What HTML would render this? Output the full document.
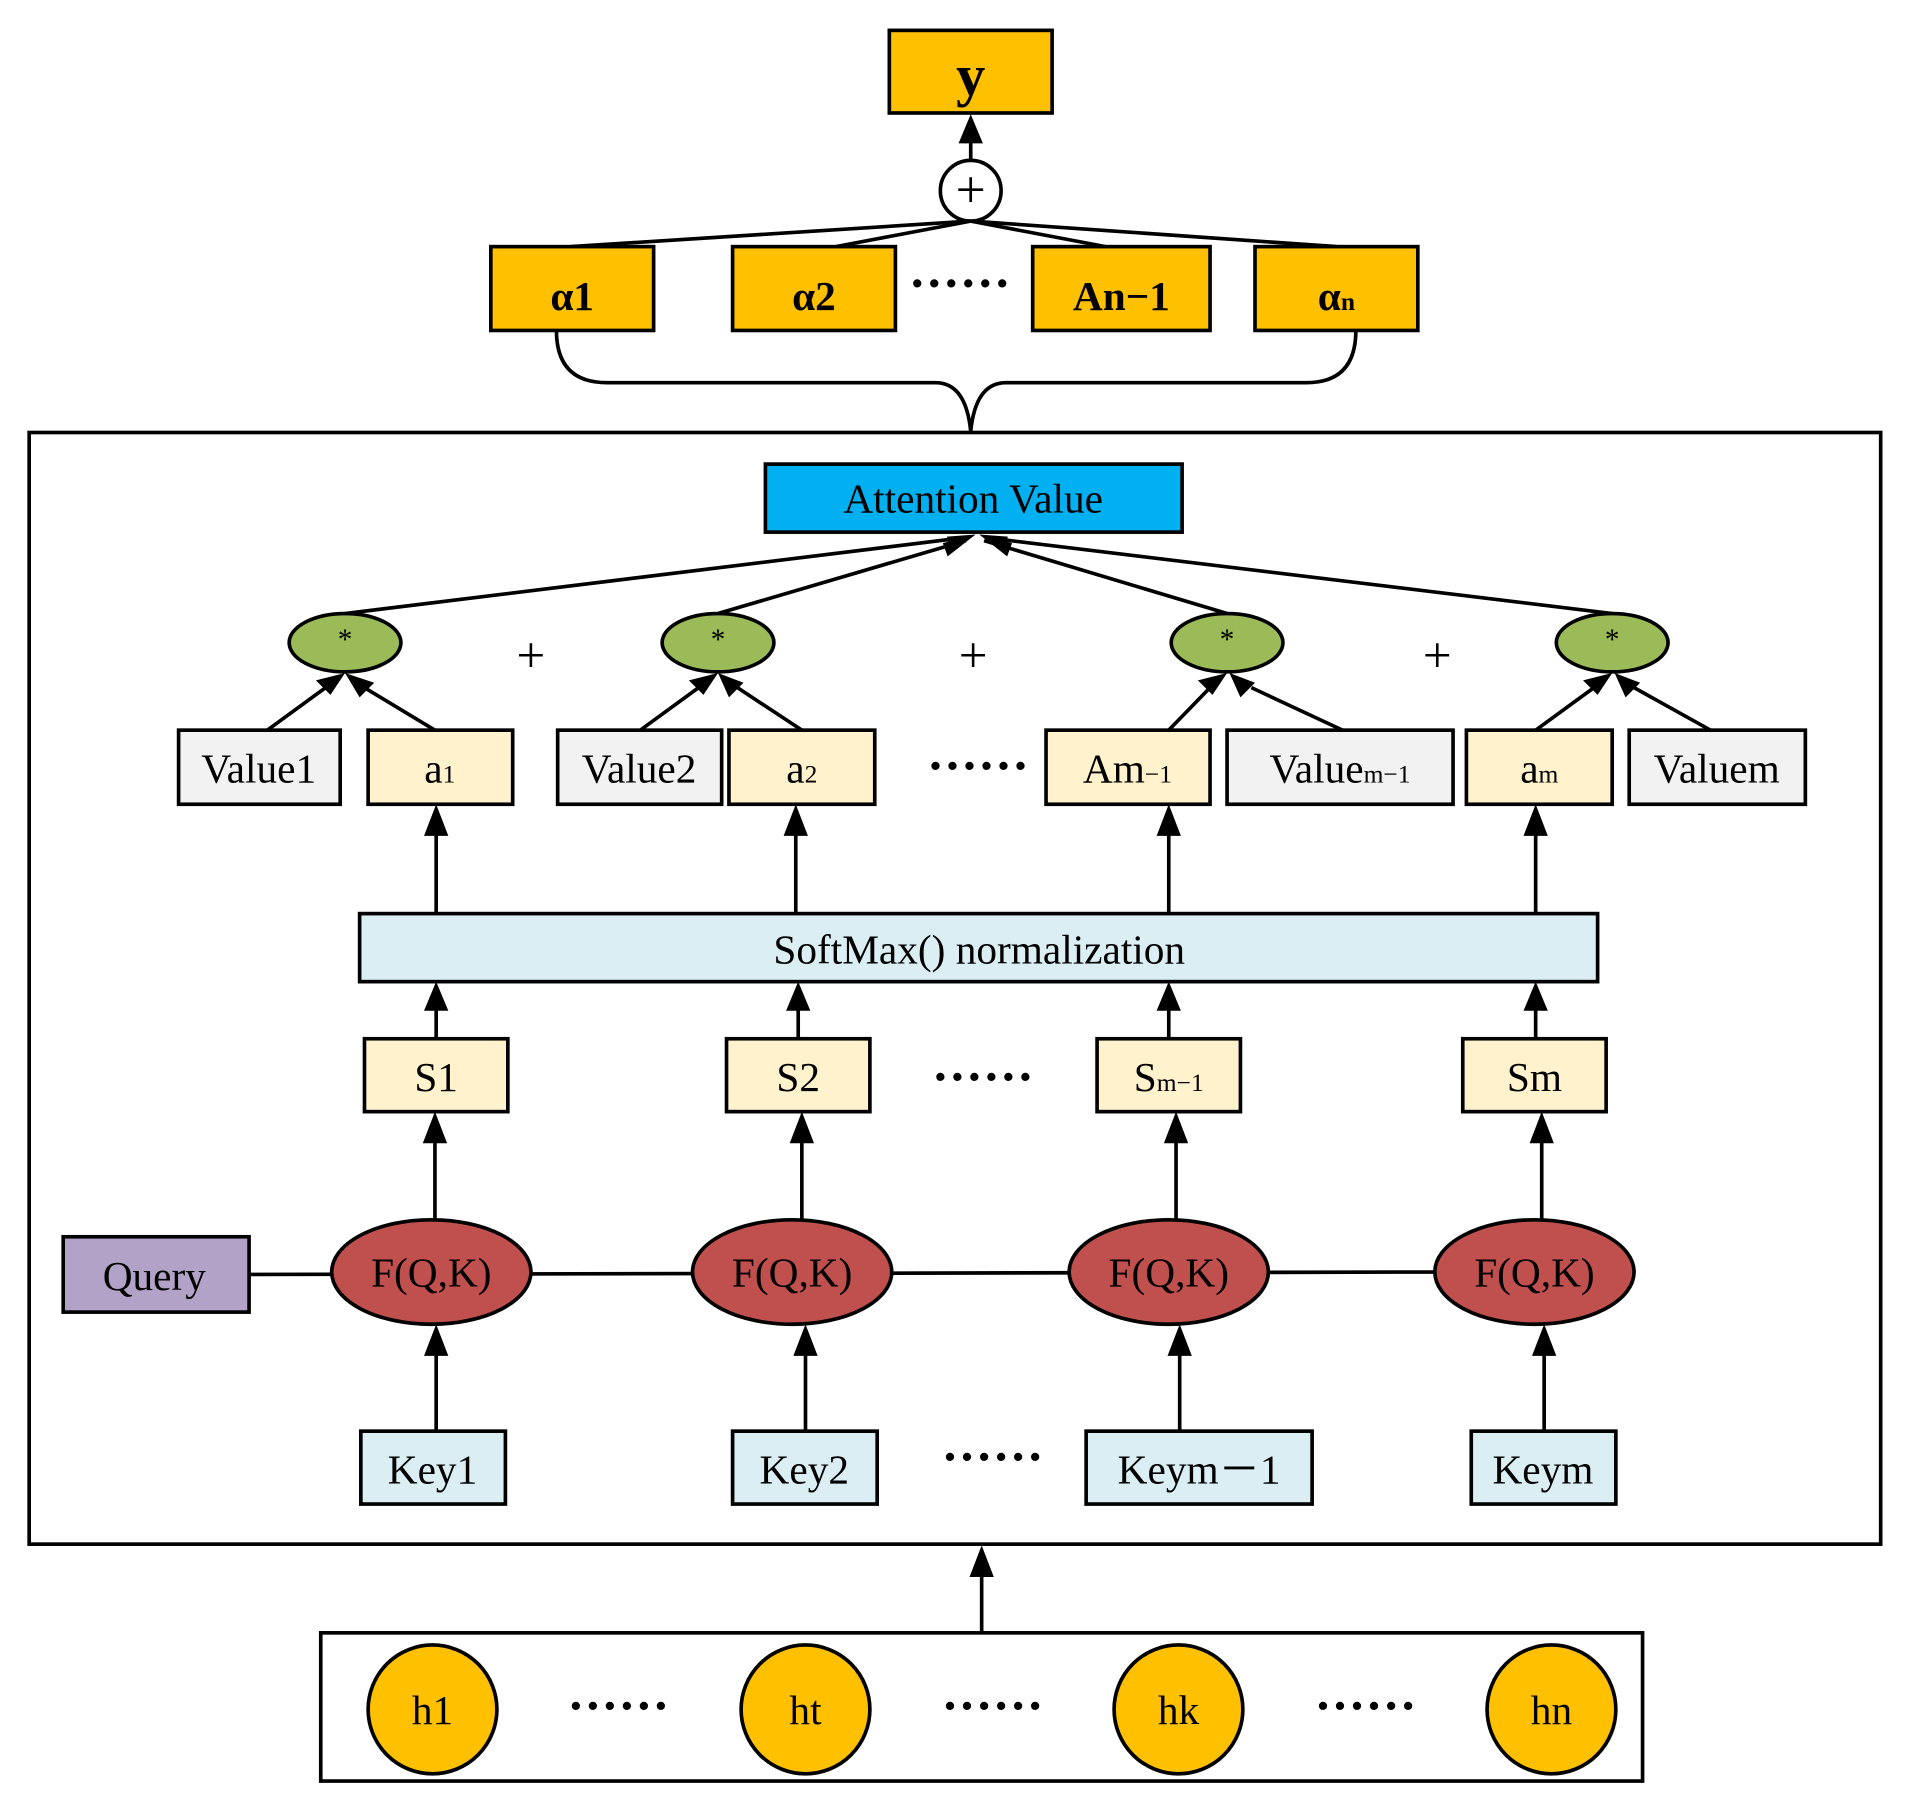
<!DOCTYPE html>
<html><head><meta charset="utf-8"><style>
html,body{margin:0;padding:0;background:#fff;}
svg{display:block;}
text{font-family:"Liberation Serif",serif;fill:#000;}
</style></head><body>
<svg width="1905" height="1809" viewBox="0 0 1568 1489" xmlns="http://www.w3.org/2000/svg">
<g stroke="#000" stroke-width="3">
<rect x="732" y="25" width="134" height="68" fill="#ffc000"/>
<circle cx="799" cy="157" r="25" fill="#fff"/>
<line x1="799" y1="132" x2="799" y2="112"/>
<line x1="799" y1="182" x2="470" y2="203"/>
<line x1="799" y1="182" x2="688" y2="203"/>
<line x1="799" y1="182" x2="910" y2="203"/>
<line x1="799" y1="182" x2="1100" y2="203"/>
<rect x="404" y="203" width="134" height="69" fill="#ffc000"/>
<rect x="603" y="203" width="134" height="69" fill="#ffc000"/>
<rect x="850" y="203" width="146" height="69" fill="#ffc000"/>
<rect x="1033" y="203" width="134" height="69" fill="#ffc000"/>
<path d="M458 272 Q458 315 500 315 L770 315 Q795 315 799 355 Q803 315 828 315 L1075 315 Q1116 315 1116 272" fill="none"/>
<rect x="24" y="356" width="1524" height="915" fill="none"/>
<rect x="630" y="382" width="343" height="56" fill="#00b0f0"/>
<line x1="284" y1="505" x2="790" y2="443"/>
<line x1="591" y1="505" x2="795" y2="445"/>
<line x1="1010" y1="505" x2="810" y2="445"/>
<line x1="1327" y1="505" x2="815" y2="443"/>
<g fill="#9bbb59">
<ellipse cx="284" cy="529" rx="46" ry="24"/>
<ellipse cx="591" cy="529" rx="46" ry="24"/>
<ellipse cx="1010" cy="529" rx="46" ry="24"/>
<ellipse cx="1327" cy="529" rx="46" ry="24"/>
</g>
<line x1="220" y1="601" x2="268" y2="566"/>
<line x1="358" y1="601" x2="300" y2="566"/>
<line x1="527" y1="601" x2="575" y2="566"/>
<line x1="660" y1="601" x2="607" y2="566"/>
<line x1="962" y1="601" x2="996" y2="566"/>
<line x1="1105" y1="601" x2="1030" y2="566"/>
<line x1="1264" y1="601" x2="1312" y2="566"/>
<line x1="1408" y1="601" x2="1345" y2="566"/>
<rect x="147" y="601" width="133" height="61" fill="#f2f2f2"/>
<rect x="303" y="601" width="119" height="61" fill="#fff2cc"/>
<rect x="459" y="601" width="135" height="61" fill="#f2f2f2"/>
<rect x="600" y="601" width="120" height="61" fill="#fff2cc"/>
<rect x="861" y="601" width="135" height="61" fill="#fff2cc"/>
<rect x="1010" y="601" width="186" height="61" fill="#f2f2f2"/>
<rect x="1207" y="601" width="120" height="61" fill="#fff2cc"/>
<rect x="1341" y="601" width="145" height="61" fill="#f2f2f2"/>
<line x1="359" y1="752" x2="359" y2="682"/>
<line x1="655" y1="752" x2="655" y2="682"/>
<line x1="962" y1="752" x2="962" y2="682"/>
<line x1="1264" y1="752" x2="1264" y2="682"/>
<rect x="296" y="752" width="1019" height="56" fill="#daeef3"/>
<line x1="359" y1="855" x2="359" y2="828"/>
<line x1="657" y1="855" x2="657" y2="828"/>
<line x1="962" y1="855" x2="962" y2="828"/>
<line x1="1264" y1="855" x2="1264" y2="828"/>
<rect x="300" y="855" width="118" height="60" fill="#fff2cc"/>
<rect x="598" y="855" width="118" height="60" fill="#fff2cc"/>
<rect x="903" y="855" width="118" height="60" fill="#fff2cc"/>
<rect x="1204" y="855" width="118" height="60" fill="#fff2cc"/>
<line x1="358" y1="1004" x2="358" y2="935"/>
<line x1="660" y1="1004" x2="660" y2="935"/>
<line x1="968" y1="1004" x2="968" y2="935"/>
<line x1="1269" y1="1004" x2="1269" y2="935"/>
<line x1="205" y1="1049" x2="1190" y2="1047"/>
<rect x="52" y="1018" width="153" height="62" fill="#b3a2c7"/>
<g fill="#c0504d">
<ellipse cx="355" cy="1047" rx="82" ry="43"/>
<ellipse cx="652" cy="1047" rx="82" ry="43"/>
<ellipse cx="962" cy="1047" rx="82" ry="43"/>
<ellipse cx="1263" cy="1047" rx="82" ry="43"/>
</g>
<line x1="359" y1="1178" x2="359" y2="1110"/>
<line x1="663" y1="1178" x2="663" y2="1110"/>
<line x1="971" y1="1178" x2="971" y2="1110"/>
<line x1="1271" y1="1178" x2="1271" y2="1110"/>
<rect x="297" y="1178" width="119" height="60" fill="#daeef3"/>
<rect x="603" y="1178" width="119" height="60" fill="#daeef3"/>
<rect x="894" y="1178" width="186" height="60" fill="#daeef3"/>
<rect x="1211" y="1178" width="119" height="60" fill="#daeef3"/>
<line x1="808" y1="1343" x2="808" y2="1292"/>
<rect x="264" y="1344" width="1088" height="122" fill="none"/>
<g fill="#ffc000">
<circle cx="356" cy="1407" r="53"/>
<circle cx="663" cy="1407" r="53"/>
<circle cx="970" cy="1407" r="53"/>
<circle cx="1277" cy="1407" r="53"/>
</g>
</g>
<g fill="#000">
<polygon points="799,94 789,118 809,118"/>
<polygon points="803,440 776,447 780,458"/>
<polygon points="803,440 780,445 784,457" transform="rotate(8 803 440)"/>
<polygon points="806,440 833,447 829,458"/>
<polygon points="806,440 829,445 825,457" transform="rotate(-8 806 440)"/>
<polygon points="284,554 260,560 272,572"/>
<polygon points="284,554 296,574 308,562"/>
<polygon points="591,554 567,560 579,572"/>
<polygon points="591,554 600,574 612,562"/>
<polygon points="1010,554 986,560 998,572"/>
<polygon points="1012,554 1021,574 1033,562"/>
<polygon points="1327,554 1303,560 1315,572"/>
<polygon points="1329,554 1338,574 1350,562"/>
<polygon points="359,662 349,688 369,688"/>
<polygon points="655,662 645,688 665,688"/>
<polygon points="962,662 952,688 972,688"/>
<polygon points="1264,662 1254,688 1274,688"/>
<polygon points="359,808 349,832 369,832"/>
<polygon points="657,808 647,832 667,832"/>
<polygon points="962,808 952,832 972,832"/>
<polygon points="1264,808 1254,832 1274,832"/>
<polygon points="358,915 348,941 368,941"/>
<polygon points="660,915 650,941 670,941"/>
<polygon points="968,915 958,941 978,941"/>
<polygon points="1269,915 1259,941 1279,941"/>
<polygon points="359,1090 349,1116 369,1116"/>
<polygon points="663,1090 653,1116 673,1116"/>
<polygon points="971,1090 961,1116 981,1116"/>
<polygon points="1271,1090 1261,1116 1281,1116"/>
<polygon points="808,1272 798,1298 818,1298"/>
</g>
<g font-size="34" text-anchor="middle">
<text x="799" y="78" font-size="48" font-weight="bold">y</text>
<text x="799" y="171" font-size="44">+</text>
<text x="471" y="255" font-weight="bold">α1</text>
<text x="670" y="255" font-weight="bold">α2</text>
<text x="923" y="255" font-weight="bold">An−1</text>
<text x="1100" y="255" font-weight="bold">α<tspan font-size="21">n</tspan></text>
<text x="790" y="247" font-size="42" font-weight="bold">······</text>
<text x="801" y="422">Attention  Value</text>
<text x="284" y="534" font-size="24">*</text>
<text x="591" y="534" font-size="24">*</text>
<text x="1010" y="534" font-size="24">*</text>
<text x="1327" y="534" font-size="24">*</text>
<text x="437" y="553" font-size="42">+</text>
<text x="801" y="553" font-size="42">+</text>
<text x="1183" y="553" font-size="42">+</text>
<text x="213" y="644">Value1</text>
<text x="362" y="644">a<tspan font-size="21">1</tspan></text>
<text x="526" y="644">Value2</text>
<text x="660" y="644">a<tspan font-size="21">2</tspan></text>
<text x="805" y="644" font-size="42" font-weight="bold">······</text>
<text x="928" y="644">Am<tspan font-size="21">−1</tspan></text>
<text x="1103" y="644">Value<tspan font-size="21">m−1</tspan></text>
<text x="1267" y="644">a<tspan font-size="21">m</tspan></text>
<text x="1413" y="644">Valuem</text>
<text x="806" y="793">SoftMax() normalization</text>
<text x="359" y="898">S1</text>
<text x="657" y="898">S2</text>
<text x="962" y="898">S<tspan font-size="21">m−1</tspan></text>
<text x="1263" y="898">Sm</text>
<text x="809" y="900" font-size="42" font-weight="bold">······</text>
<text x="127" y="1062">Query</text>
<text x="355" y="1059">F(Q,K)</text>
<text x="652" y="1059">F(Q,K)</text>
<text x="962" y="1059">F(Q,K)</text>
<text x="1263" y="1059">F(Q,K)</text>
<text x="356" y="1221">Key1</text>
<text x="662" y="1221">Key2</text>
<text x="987" y="1221">Keym－1</text>
<text x="1270" y="1221">Keym</text>
<text x="817" y="1213" font-size="42" font-weight="bold">······</text>
<text x="356" y="1419">h1</text>
<text x="663" y="1419">ht</text>
<text x="970" y="1419">hk</text>
<text x="1277" y="1419">hn</text>
<text x="509" y="1418" font-size="42" font-weight="bold">······</text>
<text x="817" y="1418" font-size="42" font-weight="bold">······</text>
<text x="1124" y="1418" font-size="42" font-weight="bold">······</text>
</g>
</svg>
</body></html>
